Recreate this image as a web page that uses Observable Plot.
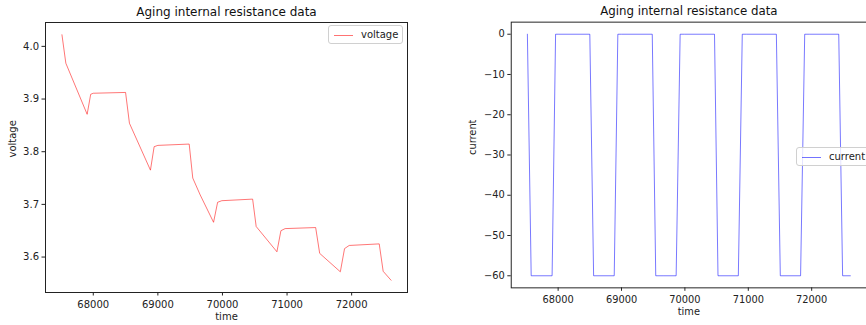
<!DOCTYPE html>
<html><head><meta charset="utf-8">
<script src="https://cdn.jsdelivr.net/npm/d3@7"></script>
<script src="https://cdn.jsdelivr.net/npm/@observablehq/plot@0.6"></script>
<style>
html,body{margin:0;padding:0;}
body{width:866px;height:325px;overflow:hidden;position:relative;background:#fff;font-family:"DejaVu Sans",sans-serif;}
.panel{position:absolute;top:0;}
.legend{position:absolute;height:19px;background:rgba(255,255,255,0.8);border:1px solid #d0d0d0;border-radius:3px;box-sizing:border-box;font-size:10px;color:#222;}
.legend .sw{position:absolute;left:5px;top:9px;width:19px;height:0;border-top:1px solid;}
.legend .lb{position:absolute;left:32px;top:2px;line-height:13px;white-space:nowrap;}
</style></head><body>
<div id="left" class="panel" style="left:0"></div>
<div id="right" class="panel" style="left:433px"></div>
<div class="legend" style="left:328px;top:25px;width:75px;"><div class="sw" style="border-color:rgba(255,0,0,0.55)"></div><div class="lb">voltage</div></div>
<div class="legend" style="left:796px;top:147px;width:90px;"><div class="sw" style="border-color:rgba(0,0,255,0.55)"></div><div class="lb">current</div></div>
<script>
const time = [67515, 67575, 67905, 67960, 68000, 68500, 68560, 68885, 68942, 69000, 69485, 69540, 69655, 69862, 69925, 69990, 70467, 70522, 70843, 70905, 70970, 71443, 71505, 71825, 71890, 71962, 72427, 72488, 72610];
const voltage = [4.022, 3.968, 3.871, 3.909, 3.911, 3.9125, 3.854, 3.765, 3.8095, 3.812, 3.8145, 3.750, 3.718, 3.666, 3.704, 3.707, 3.710, 3.658, 3.610, 3.650, 3.654, 3.656, 3.607, 3.572, 3.616, 3.622, 3.625, 3.573, 3.556];
const current = [0, -60, -60, 0, 0, 0, -60, -60, 0, 0, 0, -60, -60, -60, 0, 0, 0, -60, -60, 0, 0, 0, -60, -60, 0, 0, 0, -60, -60];
const timeTicks = [68000, 69000, 70000, 71000, 72000];
const voltageTicks = [3.6, 3.7, 3.8, 3.9, 4.0];
const currentTicks = [0, -10, -20, -30, -40, -50, -60];
const chartTitle = "Aging internal resistance data";
const xLabel = "time";
const voltageLabel = "voltage";
const currentLabel = "current";

const rows = time.map((t, i) => ({time: t, voltage: voltage[i], current: current[i]}));
function pad(ext) { const r = ext[1] - ext[0]; return [ext[0] - 0.05 * r, ext[1] + 0.05 * r]; }
const xDomain = pad(d3.extent(time));
const font = {fontFamily: "DejaVu Sans", fontSize: "10px", color: "#222", background: "transparent", overflow: "visible"};

function panel(opts) {
  return Plot.plot({
    width: opts.width, height: 325,
    marginLeft: opts.marginLeft, marginRight: opts.marginRight, marginTop: 22, marginBottom: 33,
    style: font,
    x: {domain: xDomain},
    y: {domain: opts.yDomain},
    marks: [
      Plot.line(rows, {x: "time", y: opts.key, stroke: opts.color, strokeOpacity: 0.6, strokeWidth: 0.9}),
      Plot.frame({stroke: "#222", strokeWidth: 1}),
      Plot.axisX({ticks: timeTicks, tickSize: 3.5, tickPadding: 5, tickFormat: d3.format("d"), label: null, fontSize: 10}),
      Plot.axisY({ticks: opts.ticks, tickSize: 3.5, tickPadding: 3, tickFormat: opts.fmt, label: null, fontSize: 10}),
      Plot.text([chartTitle], {frameAnchor: "top", dy: -7, lineAnchor: "bottom", fontSize: 12, fill: "#111"}),
      Plot.text([xLabel], {frameAnchor: "bottom", dy: 20, lineAnchor: "top", fontSize: 10, fill: "#222"}),
      Plot.text([opts.label], {frameAnchor: "left", dx: opts.labelDx, rotate: -90, fontSize: 10, fill: "#222"})
    ]
  });
}

document.getElementById("left").appendChild(panel({
  width: 433, marginLeft: 45, marginRight: 26, key: "voltage", color: "red",
  yDomain: pad(d3.extent(voltage)), ticks: voltageTicks, fmt: d3.format(".1f"),
  label: voltageLabel, labelDx: -33
}));
document.getElementById("right").appendChild(panel({
  width: 440, marginLeft: 79, marginRight: 0, key: "current", color: "blue",
  yDomain: pad(d3.extent(current)), ticks: currentTicks, fmt: d3.format("d"),
  label: currentLabel, labelDx: -39
}));
</script>
</body></html>
